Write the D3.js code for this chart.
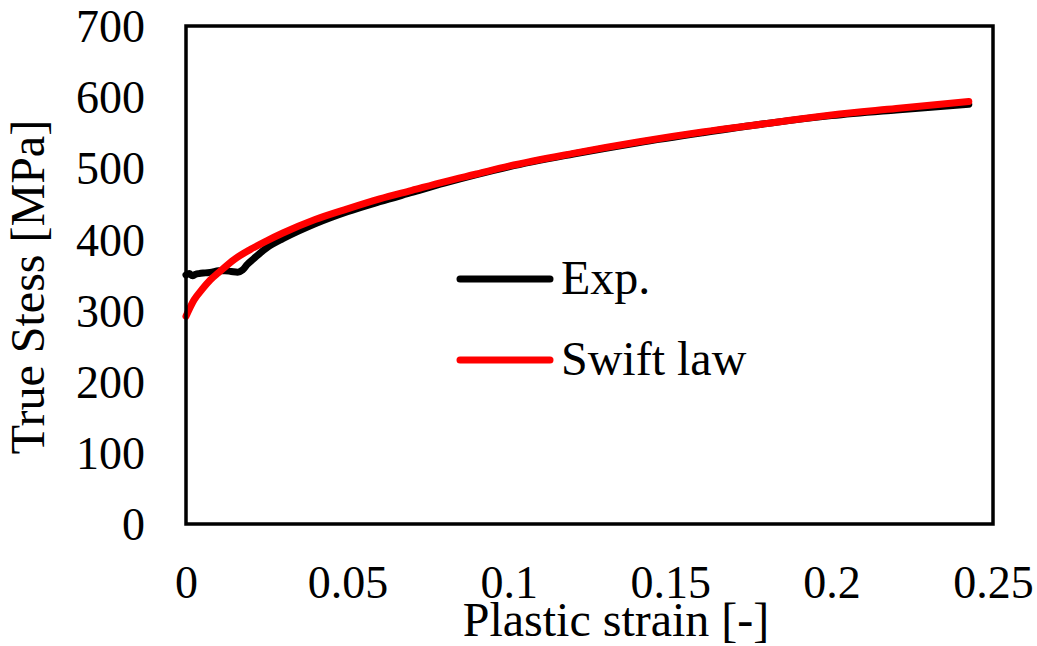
<!DOCTYPE html>
<html>
<head>
<meta charset="utf-8">
<script src="https://cdn.jsdelivr.net/npm/d3@7"></script>
<style>
  body { margin: 0; background: #fff; }
  text { font-family: "Liberation Serif", "Times New Roman", serif; fill: #000; }
</style>
</head>
<body>
<div id="chart"></div>
<script>
// experimental curve (strain, stress MPa)
const expStrain = [0, 0.001, 0.002, 0.003, 0.004, 0.006, 0.008, 0.010, 0.012, 0.014, 0.016, 0.0175,
  0.019, 0.021, 0.023, 0.025, 0.03, 0.035, 0.04, 0.05, 0.06, 0.07, 0.08, 0.09, 0.10,
  0.12, 0.14, 0.16, 0.18, 0.20, 0.22, 0.2425];
const expStress = [350, 352, 349, 351, 352, 353, 354, 356, 356, 355, 354, 357,
  365, 373, 381, 388, 401, 412, 422, 439, 453, 466, 479, 491, 502,
  520, 536, 550, 563, 574, 582, 590];

// Swift law fit
const swiftStrain = [0, 0.0025, 0.005, 0.0075, 0.01, 0.015, 0.02, 0.025, 0.03, 0.04, 0.05, 0.06,
  0.07, 0.08, 0.09, 0.10, 0.12, 0.14, 0.16, 0.18, 0.20, 0.22, 0.2425];
const swiftStress = [292, 315, 330, 343, 353, 372, 386, 398, 409, 428, 443, 457,
  469, 481, 492, 503, 521, 537, 551, 563, 575, 584, 594];

const xTicks = [0, 0.05, 0.1, 0.15, 0.2, 0.25];
const yTicks = [0, 100, 200, 300, 400, 500, 600, 700];

const width = 1037, height = 646;
const margin = { top: 26, right: 44, bottom: 122, left: 186 };

const svg = d3.select("#chart")
  .append("svg")
  .attr("width", width)
  .attr("height", height);

const x = d3.scaleLinear()
  .domain([0, 0.25])
  .range([margin.left, width - margin.right]);

const y = d3.scaleLinear()
  .domain([0, 700])
  .range([height - margin.bottom, margin.top]);

const expData = expStrain.map((s, i) => ({ s, v: expStress[i] }));
const swiftData = swiftStrain.map((s, i) => ({ s, v: swiftStress[i] }));

const line = d3.line()
  .x(d => x(d.s))
  .y(d => y(d.v))
  .curve(d3.curveMonotoneX);

svg.append("path")
  .datum(expData)
  .attr("fill", "none")
  .attr("stroke", "#000")
  .attr("stroke-width", 7)
  .attr("stroke-linecap", "round")
  .attr("stroke-linejoin", "round")
  .attr("d", line);

svg.append("path")
  .datum(swiftData)
  .attr("fill", "none")
  .attr("stroke", "#ff0000")
  .attr("stroke-width", 7)
  .attr("stroke-linecap", "round")
  .attr("d", line);

// plot frame
svg.append("rect")
  .attr("x", x(0))
  .attr("y", y(700))
  .attr("width", x(0.25) - x(0))
  .attr("height", y(0) - y(700))
  .attr("fill", "none")
  .attr("stroke", "#000")
  .attr("stroke-width", 3.5);

// x axis labels
svg.append("g")
  .attr("transform", `translate(0,${y(0) + 38})`)
  .call(d3.axisBottom(x).tickValues(xTicks).tickSize(0).tickFormat(d => d === 0 ? "0" : String(d)))
  .call(g => g.select(".domain").remove())
  .call(g => g.selectAll("text")
    .attr("font-size", 46)
    .style("font-family", "'Liberation Serif', serif"));

// y axis labels
svg.append("g")
  .attr("transform", `translate(${x(0) - 38},0)`)
  .call(d3.axisLeft(y).tickValues(yTicks).tickSize(0))
  .call(g => g.select(".domain").remove())
  .call(g => g.selectAll("text")
    .attr("font-size", 46)
    .attr("dy", "0.34em")
    .style("font-family", "'Liberation Serif', serif"));

svg.append("text")
  .attr("x", 616)
  .attr("y", 636)
  .attr("text-anchor", "middle")
  .attr("font-size", 48)
  .text("Plastic strain [-]");

svg.append("text")
  .attr("transform", `translate(44,287) rotate(-90)`)
  .attr("text-anchor", "middle")
  .attr("font-size", 48)
  .text("True Stess [MPa]");

// legend
const legend = [
  { name: "Exp.", color: "#000", ly: 279 },
  { name: "Swift law", color: "#ff0000", ly: 360 }
];
legend.forEach(l => {
  svg.append("line")
    .attr("x1", 460).attr("x2", 550)
    .attr("y1", l.ly).attr("y2", l.ly)
    .attr("stroke", l.color)
    .attr("stroke-width", 7)
    .attr("stroke-linecap", "round");
  svg.append("text")
    .attr("x", 561)
    .attr("y", l.ly + 15)
    .attr("font-size", 48)
    .text(l.name);
});
</script>
</body>
</html>
